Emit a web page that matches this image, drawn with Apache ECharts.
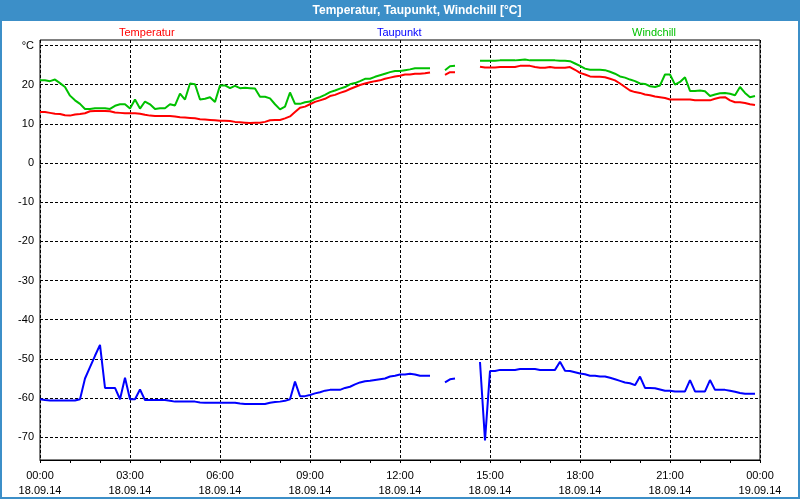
<!DOCTYPE html>
<html>
<head>
<meta charset="utf-8">
<script src="https://cdn.jsdelivr.net/npm/echarts@6/dist/echarts.min.js"></script>
<style>
html,body{margin:0;padding:0;background:#fff;}
#chart{width:800px;height:500px;}
</style>
</head>
<body>
<div id="chart"></div>
<script>
// 10-minute samples, 18.09.14 00:00 .. 19.09.14 00:00
const dayLabels = ['18.09.14', '19.09.14'];
const categories = [];
for (let i = 0; i <= 144; i++) {
  const m = i * 10;
  const hh = String(Math.floor(m / 60) % 24).padStart(2, '0');
  const mm = String(m % 60).padStart(2, '0');
  categories.push((i === 144 ? dayLabels[1] : dayLabels[0]) + ' ' + hh + ':' + mm);
}

const seriesNames = ['Temperatur', 'Taupunkt', 'Windchill'];

const temperatur = [
  13.0, 13.0, 12.8, 12.6, 12.5, 12.2, 12.1, 12.4, 12.5, 12.7,
  13.2, 13.3, 13.3, 13.3, 13.2, 12.9, 12.8, 12.7, 12.7, 12.7,
  12.6, 12.3, 12.1, 12.0, 12.0, 12.0, 12.0, 11.9, 11.7, 11.6,
  11.5, 11.4, 11.2, 11.1, 11.0, 10.9, 10.8, 10.8, 10.7, 10.5,
  10.4, 10.3, 10.2, 10.3, 10.3, 10.5, 10.9, 11.0, 11.0, 11.4,
  11.9, 13.0, 14.1, 14.4, 15.0, 15.6, 16.0, 16.4, 17.1, 17.4,
  17.9, 18.3, 18.9, 19.4, 19.9, 20.3, 20.6, 20.9, 21.1, 21.5,
  21.8, 22.1, 22.3, 22.6, 22.6, 22.8, 22.8, 22.9, 23.1, null,
  null, 22.5, 23.2, 23.2, null, null, null, null, 24.6, 24.4,
  24.4, 24.4, 24.5, 24.5, 24.5, 24.5, 24.8, 24.8, 24.8, 24.5,
  24.3, 24.3, 24.5, 24.3, 24.3, 24.3, 24.5, 23.8, 23.0, 22.6,
  22.1, 22.0, 22.0, 21.9, 21.5, 21.1, 20.3, 19.4, 18.5, 18.1,
  17.9, 17.5, 17.3, 17.0, 16.8, 16.6, 16.2, 16.2, 16.2, 16.2,
  16.2, 16.0, 16.0, 16.0, 16.0, 16.4, 16.7, 16.8, 16.0, 15.5,
  15.5, 15.3, 15.0, 14.8, null
];

const taupunkt = [
  -60.3, -60.5, -60.6, -60.6, -60.6, -60.6, -60.6, -60.6, -60.3, -55.0,
  -52.1, -49.2, -46.4, -57.4, -57.4, -57.4, -60.3, -54.8, -60.3, -60.3,
  -57.8, -60.5, -60.5, -60.5, -60.5, -60.5, -60.7, -60.9, -60.9, -60.9,
  -60.9, -60.9, -61.1, -61.2, -61.2, -61.2, -61.2, -61.2, -61.2, -61.2,
  -61.4, -61.5, -61.5, -61.5, -61.5, -61.5, -61.2, -61.0, -60.9, -60.7,
  -60.3, -55.8, -59.5, -59.5, -59.2, -58.8, -58.5, -58.1, -57.9, -57.9,
  -57.9, -57.4, -57.1, -56.5, -56.0, -55.7, -55.6, -55.4, -55.2, -55.0,
  -54.5, -54.3, -54.0, -54.0, -53.8, -54.0, -54.3, -54.3, -54.3, null,
  null, -56.0, -55.2, -55.0, null, null, null, null, -50.8, -70.8,
  -53.1, -53.1, -52.8, -52.8, -52.8, -52.8, -52.6, -52.6, -52.6, -52.6,
  -52.8, -52.8, -52.8, -52.8, -50.7, -53.0, -53.1, -53.4, -53.7, -53.9,
  -54.3, -54.3, -54.5, -54.5, -54.8, -55.2, -55.6, -56.0, -56.2, -56.7,
  -54.5, -57.4, -57.4, -57.5, -57.8, -58.1, -58.1, -58.3, -58.3, -58.3,
  -55.4, -58.3, -58.3, -58.3, -55.4, -57.9, -57.9, -57.9, -58.1, -58.4,
  -58.7, -58.9, -58.9, -58.9, null
];

const windchill = [
  21.1, 21.1, 20.9, 21.3, 20.4, 19.4, 17.2, 16.0, 15.1, 13.8,
  13.8, 14.0, 14.0, 14.0, 13.8, 14.6, 15.0, 15.0, 13.9, 16.2,
  13.9, 15.7, 15.0, 13.8, 14.0, 14.0, 15.0, 14.7, 17.7, 16.2,
  20.3, 20.1, 16.2, 16.4, 16.8, 15.6, 19.8, 19.8, 19.1, 19.7,
  19.1, 19.2, 19.1, 19.0, 16.9, 16.9, 16.5, 15.0, 13.7, 14.4,
  18.0, 15.1, 15.1, 15.5, 15.7, 16.4, 16.8, 17.4, 18.1, 18.5,
  19.0, 19.4, 20.1, 20.4, 20.9, 21.5, 21.5, 22.0, 22.4, 22.8,
  23.2, 23.5, 23.5, 23.7, 23.9, 24.2, 24.2, 24.2, 24.2, null,
  null, 23.7, 24.7, 24.8, null, null, null, null, 26.1, 26.1,
  26.1, 26.1, 26.2, 26.2, 26.2, 26.2, 26.3, 26.4, 26.2, 26.2,
  26.2, 26.2, 26.2, 26.2, 26.1, 26.1, 26.0, 25.4, 24.8, 24.1,
  23.8, 23.8, 23.8, 23.7, 23.3, 22.8, 22.1, 21.8, 21.3, 20.9,
  20.3, 20.2, 19.6, 19.4, 19.8, 22.6, 22.6, 20.0, 20.7, 21.9,
  18.4, 18.4, 18.5, 18.3, 17.1, 17.5, 17.8, 17.9, 17.7, 17.3,
  19.4, 17.9, 16.8, 17.1, null
];

const yTicks = [-70, -60, -50, -40, -30, -20, -10, 0, 10, 20, 30];
const unitLabel = '°C';
const titleText = 'Temperatur, Taupunkt, Windchill [°C]';

const FONT = 'Liberation Sans';
const colors = ['#ff0000', '#0000ff', '#00c000'];
const legendLeft = [114, 372, 627];

const chart = echarts.init(document.getElementById('chart'), null, {renderer: 'canvas'});

const option = {
  animation: false,
  backgroundColor: '#ffffff',
  title: {
    text: titleText,
    left: 417,
    top: 4,
    textAlign: 'center',
    padding: 0,
    textStyle: {color: '#ffffff', fontWeight: 'bold', fontSize: 12, fontFamily: FONT, lineHeight: 13}
  },
  graphic: [
    {type: 'rect', z: -10, silent: true, shape: {x: 0, y: 0, width: 800, height: 21}, style: {fill: '#3c8fc8'}},
    {type: 'rect', z: -10, silent: true, shape: {x: 1, y: 0, width: 798, height: 498}, style: {fill: null, stroke: '#3c8fc8', lineWidth: 2}}
  ],
  legend: seriesNames.map((n, k) => ({
    data: [n],
    left: legendLeft[k],
    top: 27,
    padding: 0,
    icon: 'none',
    itemWidth: 0,
    itemHeight: 11,
    selectedMode: false,
    textStyle: {color: colors[k], fontSize: 11, fontFamily: FONT}
  })),
  grid: {
    left: 40, right: 40, top: 40, bottom: 40,
    show: true, borderColor: '#000', borderWidth: 1, backgroundColor: 'transparent',
    containLabel: false
  },
  xAxis: {
    type: 'category',
    data: categories,
    boundaryGap: false,
    axisLine: {show: true, onZero: false, lineStyle: {color: '#000', width: 1}},
    axisTick: {show: true, interval: (i) => i % 6 === 0, length: 3, lineStyle: {color: '#000'}},
    axisLabel: {
      interval: (i) => i % 18 === 0,
      formatter: (v) => { const p = v.split(' '); return p[1] + '\n' + p[0]; },
      color: '#000', fontSize: 11, fontFamily: FONT, lineHeight: 15, margin: 8
    },
    splitLine: {show: true, interval: (i) => i % 18 === 0, lineStyle: {color: '#000', type: [3, 2], width: 1}}
  },
  yAxis: {
    type: 'value',
    min: -75.8,
    max: 31.4,
    axisLine: {show: false},
    axisTick: {show: false, customValues: yTicks},
    axisLabel: {
      customValues: yTicks,
      formatter: (v) => (v === 30 ? unitLabel : String(v)),
      color: '#000', fontSize: 11, fontFamily: FONT, margin: 6
    },
    splitLine: {show: true, lineStyle: {color: '#000', type: [3, 2], width: 1}}
  },
  series: [
    {name: seriesNames[0], type: 'line', data: temperatur, symbol: 'none', connectNulls: false, lineStyle: {color: colors[0], width: 2}, itemStyle: {color: colors[0]}},
    {name: seriesNames[1], type: 'line', data: taupunkt, symbol: 'none', connectNulls: false, lineStyle: {color: colors[1], width: 2}, itemStyle: {color: colors[1]}},
    {name: seriesNames[2], type: 'line', data: windchill, symbol: 'none', connectNulls: false, lineStyle: {color: colors[2], width: 2}, itemStyle: {color: colors[2]}}
  ]
};
chart.setOption(option);
</script>
</body>
</html>
